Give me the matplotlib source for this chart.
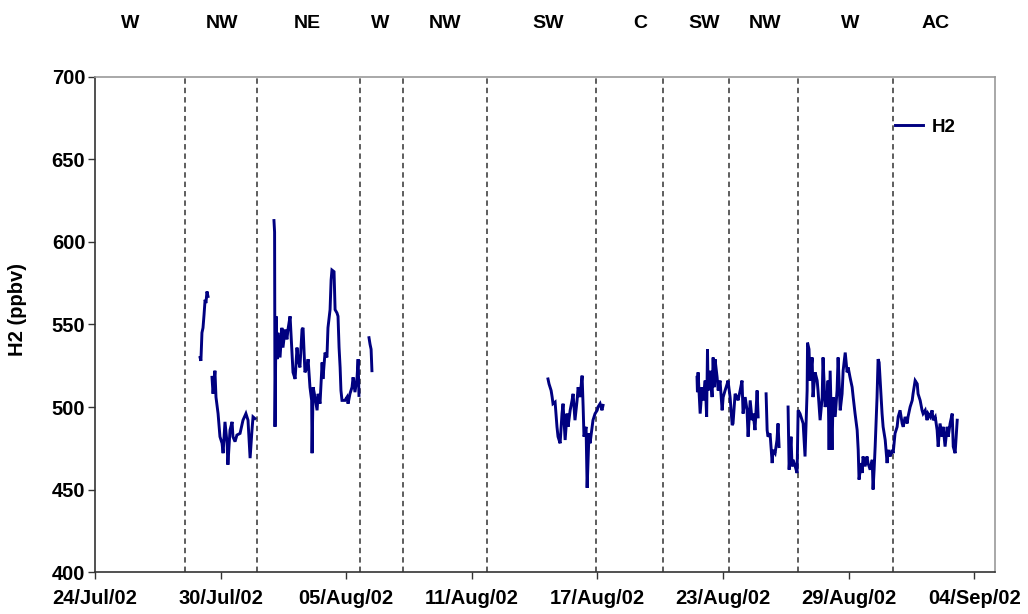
import numpy as np
import matplotlib
matplotlib.use("Agg")
import matplotlib.pyplot as plt
import matplotlib.dates as mdates
import matplotlib.transforms as mtransforms
from datetime import datetime, timedelta

plt.rcParams['font.family'] = ['Liberation Sans', 'DejaVu Sans']

# ---- data (time in days since 24 Jul 2002 00:00, H2 in ppbv) ----
seg1_days = [5.02, 5.06, 5.11, 5.16, 5.21, 5.26, 5.30, 5.35, 5.40]
seg1_vals = [530, 528, 545, 548, 556, 565, 563, 570, 567]

seg2_days = [5.59, 5.64, 5.73, 5.78, 5.88, 5.97, 6.07, 6.12, 6.21, 6.31, 6.35, 6.45,
             6.55, 6.59, 6.69, 6.78, 6.93, 7.07, 7.21, 7.31, 7.41, 7.50, 7.55, 7.64]
seg2_vals = [518, 508, 522, 506, 496, 482, 478, 472, 491, 478, 465, 486,
             491, 482, 479, 483, 484, 492, 496, 492, 469, 486, 494, 493]

seg3_days = [8.55, 8.58, 8.60, 8.65, 8.70, 8.74, 8.84, 8.93, 8.98, 9.08, 9.17, 9.22,
             9.32, 9.41, 9.46, 9.56, 9.65, 9.70, 9.79, 9.89, 9.94, 10.03, 10.13, 10.18,
             10.27, 10.35, 10.37, 10.42, 10.51, 10.61, 10.66, 10.75, 10.85, 10.89, 10.99,
             11.08, 11.13, 11.23, 11.28, 11.32, 11.42, 11.47, 11.56, 11.61, 11.66, 11.71,
             11.75, 11.80, 11.94, 12.04, 12.09, 12.18, 12.28, 12.33, 12.42, 12.52, 12.57,
             12.61]
seg3_vals = [613, 606, 488, 555, 529, 545, 530, 548, 536, 547, 541, 547,
             555, 533, 521, 517, 536, 529, 524, 547, 548, 521, 524, 529,
             512, 504, 472, 512, 506, 498, 508, 502, 527, 517, 533,
             530, 548, 559, 577, 583, 582, 559, 557, 555, 536, 524,
             510, 504, 504, 506, 502, 508, 512, 518, 509, 518, 529,
             507]

seg4_days = [13.09, 13.14, 13.19, 13.23]
seg4_vals = [542, 538, 535, 522]

seg5_days = [21.64, 21.69, 21.79, 21.84, 21.88, 21.98, 22.07, 22.12, 22.22, 22.31,
             22.36, 22.46, 22.55, 22.60, 22.70, 22.79, 22.84, 22.93, 23.03, 23.08,
             23.17, 23.27, 23.32, 23.36, 23.46, 23.51, 23.60, 23.65, 23.75, 23.79,
             23.89, 23.99, 24.03, 24.13, 24.22, 24.27]
seg5_vals = [517, 514, 510, 506, 502, 503, 488, 482, 478, 496,
             502, 480, 496, 488, 498, 504, 508, 492, 504, 512,
             506, 519, 500, 482, 488, 451, 484, 478, 488, 492,
             496, 498, 500, 502, 498, 501]

seg6_days = [28.76, 28.78, 28.81, 28.91, 29.00, 29.05, 29.15, 29.22, 29.26, 29.29,
             29.39, 29.48, 29.53, 29.58, 29.62, 29.72, 29.77, 29.86, 29.96, 30.01,
             30.10, 30.20, 30.24, 30.34, 30.44, 30.48, 30.58, 30.67, 30.72, 30.82,
             30.91, 30.96, 31.06, 31.15, 31.20, 31.30, 31.39, 31.44, 31.53, 31.63,
             31.68]
seg6_vals = [518, 509, 521, 496, 512, 504, 516, 494, 535, 510,
             522, 506, 530, 512, 529, 518, 510, 516, 498, 506,
             510, 514, 516, 506, 489, 490, 508, 506, 504, 510,
             516, 496, 506, 498, 482, 504, 492, 496, 486, 510,
             494]

seg7_days = [32.06, 32.11, 32.15, 32.25, 32.35, 32.39, 32.49, 32.58, 32.63, 32.68]
seg7_vals = [508, 486, 482, 484, 466, 474, 472, 480, 490, 476]

seg8_days = [33.11, 33.16, 33.25, 33.30, 33.35, 33.45, 33.54, 33.59, 33.68, 33.78,
             33.83, 33.92, 34.02, 34.04, 34.11, 34.16, 34.26, 34.30, 34.40, 34.50,
             34.54, 34.64, 34.74, 34.78, 34.88, 34.97, 35.02, 35.07, 35.12, 35.21,
             35.26, 35.36, 35.45, 35.50, 35.60, 35.69, 35.74, 35.84, 35.93, 35.98,
             36.07, 36.17, 36.22, 36.31, 36.41, 36.46, 36.50, 36.60, 36.65, 36.69,
             36.79, 36.88, 36.93, 37.03, 37.13, 37.17, 37.22, 37.27, 37.36, 37.41,
             37.46, 37.51, 37.60, 37.65, 37.75, 37.84, 37.89, 37.99, 38.08, 38.13,
             38.22, 38.32, 38.37, 38.46, 38.56, 38.61, 38.70, 38.80, 38.84, 38.94,
             39.04, 39.08, 39.18, 39.28, 39.32, 39.42, 39.51, 39.56, 39.66, 39.75,
             39.80, 39.90, 39.99, 40.04, 40.14, 40.23, 40.28, 40.37, 40.47, 40.52,
             40.61, 40.71, 40.76, 40.85, 40.95, 41.00, 41.09, 41.19]
seg8_vals = [500, 462, 482, 464, 468, 464, 460, 498, 496, 492,
             490, 470, 510, 539, 535, 516, 530, 506, 521, 516,
             510, 492, 506, 530, 500, 506, 516, 474, 522, 474,
             506, 494, 510, 530, 498, 508, 522, 533, 521, 524,
             518, 512, 506, 496, 486, 474, 456, 466, 460, 470,
             464, 470, 466, 462, 468, 450, 462, 476, 506, 529,
             527, 516, 496, 488, 480, 466, 474, 470, 474, 472,
             484, 488, 494, 498, 490, 488, 494, 490, 494, 500,
             504, 508, 516, 514, 508, 504, 498, 496, 498, 492,
             496, 494, 498, 492, 494, 486, 476, 490, 482, 488,
             476, 488, 482, 490, 496, 476, 472, 492]

segments = [(seg1_days, seg1_vals), (seg2_days, seg2_vals), (seg3_days, seg3_vals),
            (seg4_days, seg4_vals), (seg5_days, seg5_vals), (seg6_days, seg6_vals),
            (seg7_days, seg7_vals), (seg8_days, seg8_vals)]

divider_days = [4.30, 7.74, 12.66, 14.72, 18.73, 23.94, 27.14, 30.29, 33.59, 38.13]
regime_labels = ['W', 'NW', 'NE', 'W', 'NW', 'SW', 'C', 'SW', 'NW', 'W', 'AC']
regime_days = [1.67, 6.07, 10.13, 13.62, 16.72, 21.64, 26.04, 29.10, 32.01, 36.07, 40.14]

start = datetime(2002, 7, 24)

def to_dates(days):
    return [start + timedelta(days=d) for d in days]

# build series with gaps
all_t, all_v = [], []
for d, v in segments:
    all_t.extend(to_dates(d))
    all_v.extend(v)
    all_t.append(start + timedelta(days=d[-1] + 0.01))
    all_v.append(np.nan)

fig = plt.figure(figsize=(10.28, 6.14), dpi=100)
ax = fig.add_axes([0.0924, 0.0684, 0.8756, 0.8062])

ax.plot(all_t, all_v, color='#000080', lw=2.1, label='H2', zorder=3,
        solid_joinstyle='miter')

for d in divider_days:
    ax.axvline(start + timedelta(days=d), color='#505050', lw=1.3,
               linestyle=(0, (3, 2.2)), zorder=2)

trans = mtransforms.blended_transform_factory(ax.transData, fig.transFigure)
for lab, d in zip(regime_labels, regime_days):
    ax.text(mdates.date2num(start + timedelta(days=d)), 0.962, lab, transform=trans,
            ha='center', va='center', fontsize=14, fontweight='bold')

ax.set_ylim(400, 700)
ax.set_yticks(np.arange(400, 701, 50))
ax.set_xlim(start, start + timedelta(days=43))
ax.set_xticks([start + timedelta(days=6 * k) for k in range(8)])
ax.xaxis.set_major_formatter(mdates.DateFormatter('%d/%b/%y'))

for lbl in ax.get_xticklabels() + ax.get_yticklabels():
    lbl.set_fontweight('bold')
ax.tick_params(axis='both', labelsize=14.5, direction='out', length=5, width=1,
               colors='#333333', labelcolor='black')
ax.tick_params(axis='x', pad=7)
ax.tick_params(axis='y', pad=2)

ax.set_ylabel('H2 (ppbv)', fontsize=14.5, fontweight='bold')
ax.yaxis.set_label_coords(-0.075, 0.53)

ax.spines['left'].set_color('#333333')
ax.spines['bottom'].set_color('#333333')
ax.spines['top'].set_color('#999999')
ax.spines['right'].set_color('#999999')
for s in ax.spines.values():
    s.set_linewidth(1.2)

leg = ax.legend(loc='upper right', bbox_to_anchor=(0.975, 0.95), frameon=False,
                handlelength=1.5, handletextpad=0.45, fontsize=13.5)
for t in leg.get_texts():
    t.set_fontweight('bold')

fig.savefig('out.png', dpi=100)
